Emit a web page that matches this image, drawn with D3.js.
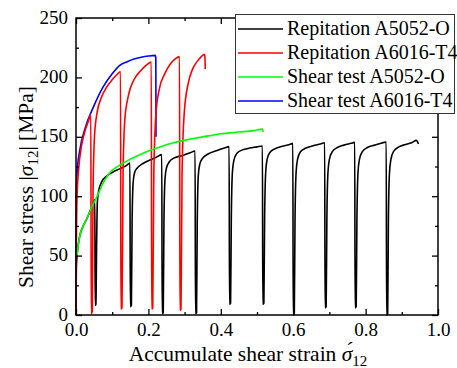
<html>
<head>
  <style>
    body { margin: 0; background: white; }
  </style>
</head>
<body>
  <div id="chart"></div>
  <script src="https://d3js.org/d3.v7.min.js"></script>
  <script>

  // Repitation A5052-O  [strain, stress MPa]
  const rep5052 = [
    [0,0],[0.001,40],[0.003,50],[0.005,56],[0.01,66],[0.02,75],[0.03,81],[0.045,92],[0.052,97],[0.053,8],
    [0.055,9],[0.057,60],[0.059,95],[0.063,105],[0.071,112],[0.085,117],[0.1,120],[0.12,123],[0.14,126],[0.149,128],[0.150,7],
    [0.153,8],[0.155,80],[0.158,112],[0.162,120],[0.17,124],[0.185,127.5],[0.205,130.5],[0.22,132.5],[0.237,135],[0.238,1],
    [0.241,2],[0.243,80],[0.246,115],[0.25,124],[0.258,129],[0.27,132],[0.297,134.5],[0.315,136.5],[0.329,138],[0.330,1],
    [0.333,2],[0.335,80],[0.338,118],[0.342,127],[0.35,132],[0.365,135.5],[0.39,138.5],[0.41,140.5],[0.423,141.7],[0.424,9],
    [0.427,10],[0.429,80],[0.432,120],[0.436,130],[0.444,136],[0.46,139],[0.48,140.5],[0.5,141.5],[0.515,142.3],[0.516,9],
    [0.519,10],[0.521,80],[0.524,120],[0.528,131],[0.536,137],[0.55,140],[0.57,142],[0.59,143.5],[0.599,144.5],[0.600,0],
    [0.603,1],[0.605,80],[0.608,120],[0.612,131],[0.62,137.5],[0.635,140.5],[0.655,142.5],[0.675,144],[0.687,145],[0.688,6],
    [0.691,7],[0.693,80],[0.696,120],[0.7,131],[0.708,137.5],[0.722,141],[0.74,143],[0.76,144.5],[0.77,145.3],[0.771,6],
    [0.774,7],[0.776,80],[0.779,120],[0.783,131],[0.791,137.5],[0.805,141],[0.825,143],[0.845,144.8],[0.857,145.6],[0.858,0],
    [0.861,1],[0.863,80],[0.866,120],[0.87,131],[0.878,138],[0.892,141.5],[0.91,143.5],[0.93,145.5],[0.94,147],[0.946,144]
  ];

  // Repitation A6016-T4
  const rep6016 = [
    [0,0],[0.001,60],[0.003,100],[0.008,125],[0.015,142],[0.025,155],[0.035,164],[0.041,169],[0.042,1],
    [0.045,3],[0.047,100],[0.051,150],[0.058,170],[0.07,183],[0.085,192],[0.1,198],[0.112,202],[0.123,205],[0.124,5],
    [0.127,6],[0.13,120],[0.135,165],[0.145,185],[0.16,198],[0.18,206],[0.195,210.5],[0.208,213],[0.209,5],
    [0.212,6],[0.215,120],[0.221,170],[0.23,190],[0.245,203],[0.26,211],[0.274,215.5],[0.286,217.5],[0.287,4],
    [0.290,5],[0.293,120],[0.299,170],[0.31,195],[0.322,207],[0.335,213.5],[0.346,217.5],[0.355,219.5],[0.356,218],[0.357,207]
  ];

  // Shear test A5052-O
  const shear5052 = [
    [0.003,50],[0.005,56],[0.01,66],[0.02,75],[0.03,81],[0.045,92],[0.057,99],[0.075,111],[0.094,120],[0.12,126],
    [0.14,129.5],[0.17,134],[0.2,138],[0.232,141.5],[0.27,145],[0.324,148.5],[0.37,151],[0.4,152.5],[0.45,154],
    [0.49,155.2],[0.515,156.5],[0.517,154]
  ];

  // Shear test A6016-T4
  const shear6016 = [
    [0,0],[0.0005,100],[0.003,120],[0.01,138],[0.025,157],[0.048,175],[0.075,192],[0.1,203],[0.12,210],[0.14,213],
    [0.16,215.5],[0.18,217],[0.2,218],[0.219,218.5],[0.2205,216],[0.221,150]
  ];

  const seriesNames = ["Repitation A5052-O", "Repitation A6016-T4", "Shear test A5052-O", "Shear test A6016-T4"];
  const seriesColors = ["#000000", "#ff0000", "#00ff00", "#0000ff"];
  const seriesData = [rep5052, rep6016, shear5052, shear6016];

  const xMajor = [0, 0.2, 0.4, 0.6, 0.8, 1.0];
  const xMinor = [0.1, 0.3, 0.5, 0.7, 0.9];
  const yMajor = [0, 50, 100, 150, 200, 250];
  const yMinor = [25, 75, 125, 175, 225];

  const W = 457, H = 368;
  const m = {left: 76, right: 438, top: 18, bottom: 315};
  const serif = "'Liberation Serif', 'Times New Roman', Times, serif";

  const svg = d3.select("#chart").append("svg")
    .attr("width", W).attr("height", H)
    .attr("font-family", serif);

  const x = d3.scaleLinear().domain([0, 1]).range([m.left, m.right]);
  const y = d3.scaleLinear().domain([0, 250]).range([m.bottom, m.top]);

  const line = d3.line()
    .x(d => x(d[0]))
    .y(d => y(d[1]))
    .curve(d3.curveMonotoneX);

  // black first, green over it at the start
  const order = [0, 3, 1, 2];
  order.forEach(i => {
    svg.append("path")
      .attr("d", line(seriesData[i]))
      .attr("fill", "none")
      .attr("stroke", seriesColors[i])
      .attr("stroke-width", 1.6)
      .attr("stroke-linejoin", "round");
  });

  // axes, ticks pointing in
  function axisGroup(axis, tr) {
    const g = svg.append("g").attr("transform", tr).call(axis)
      .attr("font-family", serif).attr("font-size", 19);
    g.select(".domain").remove();
    g.selectAll(".tick line").attr("stroke-width", 1.3);
    g.selectAll(".tick text").attr("fill", "black");
    return g;
  }
  const fmt = d3.format(".1f");
  axisGroup(d3.axisBottom(x).tickValues(xMajor).tickFormat(fmt).tickSizeInner(-6).tickPadding(8), `translate(0,${m.bottom})`);
  axisGroup(d3.axisBottom(x).tickValues(xMinor).tickFormat("").tickSizeInner(-3), `translate(0,${m.bottom})`);
  axisGroup(d3.axisTop(x).tickValues(xMajor).tickFormat("").tickSizeInner(-6), `translate(0,${m.top})`);
  axisGroup(d3.axisTop(x).tickValues(xMinor).tickFormat("").tickSizeInner(-3), `translate(0,${m.top})`);
  axisGroup(d3.axisLeft(y).tickValues(yMajor).tickFormat(d3.format("d")).tickSizeInner(-6).tickPadding(8), `translate(${m.left},0)`)
    .selectAll(".tick text").attr("dy", "0.27em");
  axisGroup(d3.axisLeft(y).tickValues(yMinor).tickFormat("").tickSizeInner(-3), `translate(${m.left},0)`);
  axisGroup(d3.axisRight(y).tickValues(yMajor).tickFormat("").tickSizeInner(-6), `translate(${m.right},0)`);
  axisGroup(d3.axisRight(y).tickValues(yMinor).tickFormat("").tickSizeInner(-3), `translate(${m.right},0)`);

  svg.append("rect")
    .attr("x", m.left).attr("y", m.top)
    .attr("width", m.right - m.left).attr("height", m.bottom - m.top)
    .attr("fill", "none").attr("stroke", "black").attr("stroke-width", 1.5);

  // axis titles
  const xt = svg.append("text")
    .attr("x", 248).attr("y", 361)
    .attr("text-anchor", "middle")
    .attr("font-size", 21.5);
  xt.append("tspan").text("Accumulate shear strain ");
  xt.append("tspan").attr("font-style", "italic").text("\u03c3\u0301");
  xt.append("tspan").attr("dy", 5).attr("font-size", 15).text("12");

  const yt = svg.append("text")
    .attr("transform", `translate(33,187) rotate(-90)`)
    .attr("text-anchor", "middle")
    .attr("font-size", 21.5);
  yt.append("tspan").text("Shear stress |");
  yt.append("tspan").attr("font-style", "italic").text("\u03c3");
  yt.append("tspan").attr("dy", 5).attr("font-size", 15).text("12");
  yt.append("tspan").attr("dy", -5).text("| [MPa]");

  // legend
  const lg = svg.append("g");
  lg.append("rect")
    .attr("x", 235.5).attr("y", 14.5).attr("width", 219).attr("height", 99)
    .attr("fill", "white").attr("stroke", "#333").attr("stroke-width", 1);
  seriesNames.forEach((name, i) => {
    const yy = 29 + i * 24;
    lg.append("line")
      .attr("x1", 238).attr("x2", 283).attr("y1", yy).attr("y2", yy)
      .attr("stroke", seriesColors[i]).attr("stroke-width", 1.5);
    lg.append("text")
      .attr("x", 287).attr("y", yy + 6)
      .attr("font-size", 20)
      .text(name);
  });
  </script>
</body>
</html>
